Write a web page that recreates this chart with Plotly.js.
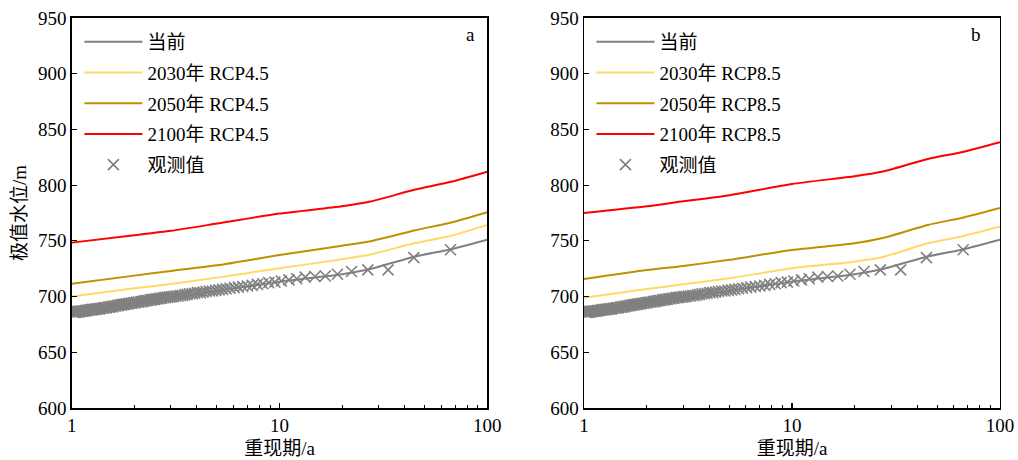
<!DOCTYPE html>
<html><head><meta charset="utf-8">
<script src="https://cdn.plot.ly/plotly-3.0.1.min.js"></script>
<style>html,body{margin:0;padding:0;background:#fff}#c{width:1018px;height:460px}</style>
</head><body><div id="c"></div>
<script>
// Return periods (a) for the fitted curves
const T = [1, 2, 3, 5, 10, 20, 27, 45, 67, 100];
// Panel a: RCP4.5
const curA_now  = [687, 695, 699, 705, 713.4, 720, 724.5, 736, 742.5, 751];
const curA_2030 = [700, 707.4, 711.3, 717, 725.4, 733.5, 737.5, 748, 754.5, 764.3];
const curA_2050 = [711.5, 718.8, 723, 728, 737.3, 745.7, 749.5, 759.5, 766.5, 775.7];
const curA_2100 = [748.4, 755, 759, 765.5, 774.5, 781, 785, 796, 803, 812];
// Panel b: RCP8.5
const curB_now  = [687, 695, 699, 705, 713.4, 720, 724.5, 736, 742.5, 751];
const curB_2030 = [699, 706.8, 711, 716.4, 725.4, 731.3, 735.2, 747.8, 754.4, 762.8];
const curB_2050 = [715.8, 723.9, 727.5, 733, 741.8, 747.8, 752.3, 764.3, 771, 779.4];
const curB_2100 = [775, 781, 785.5, 791, 801, 808, 812, 823.5, 830, 838.5];
// Observed annual maxima (return period, water level)
const obsT = [66.5, 44.3, 33.3, 26.6, 22.2, 19.0, 16.6, 14.8, 13.3, 12.1, 11.1, 10.2, 9.5, 8.87, 8.31, 7.82, 7.39, 7.0, 6.65, 6.33, 6.05, 5.78, 5.54, 5.32, 5.12, 4.93, 4.75, 4.59, 4.43, 4.29, 4.16, 4.03, 3.91, 3.80, 3.69, 3.59, 3.50, 3.41, 3.33, 3.25, 3.17, 3.09, 3.02, 2.96, 2.89, 2.83, 2.77, 2.71, 2.66, 2.61, 2.56, 2.51, 2.46, 2.42, 2.38, 2.33, 2.29, 2.25, 2.22, 2.18, 2.15, 2.10, 2.05, 2.01, 1.98, 1.94, 1.90, 1.87, 1.83, 1.80, 1.77, 1.74, 1.71, 1.68, 1.66, 1.63, 1.60, 1.57, 1.55, 1.52, 1.50, 1.47, 1.45, 1.43, 1.41, 1.38, 1.36, 1.34, 1.32, 1.30, 1.28, 1.26, 1.25, 1.23, 1.21, 1.19, 1.18, 1.16, 1.15, 1.13, 1.12, 1.10, 1.09, 1.08, 1.07, 1.06, 1.05, 1.04, 1.03, 1.02, 1.008];
const obsY = [742, 735, 724, 724, 722.5, 720, 718.5, 718, 717.5, 716, 715, 714, 713, 712.5, 711.5, 711, 710, 709.5, 709, 708.5, 708, 707.5, 707, 706.5, 706, 705.5, 705, 705, 704.5, 704, 703.5, 703.5, 703, 702.5, 702.5, 702, 701.5, 701, 701, 700.5, 700.5, 700, 700, 699.5, 699.5, 699, 699, 698.5, 698.5, 698, 698, 697.5, 697.5, 697, 697, 696.5, 696.5, 696, 696, 695.5, 695.5, 695, 695, 694.5, 694.5, 694, 694, 693.5, 693.5, 693, 693, 692.5, 692.5, 692, 692, 691.5, 691.5, 691, 691, 690.5, 690.5, 690, 690, 690, 689.5, 689.5, 689, 689, 689, 688.5, 688.5, 688.5, 688, 688, 688, 687.5, 687.5, 687.5, 687, 687, 687, 687, 686.5, 686.5, 686.5, 686.5, 686, 686, 686, 686, 686];

const names = ['当前', '2030年 RCP4.5', '2050年 RCP4.5', '2100年 RCP4.5', '观测值'];
const namesB = ['当前', '2030年 RCP8.5', '2050年 RCP8.5', '2100年 RCP8.5', '观测值'];
const colors = ['#808080', '#FFD966', '#BF9000', '#FF0000'];

function panel(series, nm, xa, ya, lg) {
  const tr = series.map((s, i) => ({
    x: T, y: s, type: 'scatter', mode: 'lines', name: nm[i],
    line: {color: colors[i], width: 2, shape: 'spline', smoothing: 0.6},
    xaxis: xa, yaxis: ya, legend: lg, legendgroup: lg + i
  }));
  tr.push({
    x: obsT, y: obsY, type: 'scatter', mode: 'markers', name: nm[4],
    marker: {symbol: 'x-thin-open', size: 11, color: '#808080', line: {color: '#808080', width: 1.6}},
    xaxis: xa, yaxis: ya, legend: lg, legendgroup: lg + 4
  });
  return tr;
}

const data = [].concat(
  panel([curA_now, curA_2030, curA_2050, curA_2100], names, 'x', 'y', 'legend'),
  panel([curB_now, curB_2030, curB_2050, curB_2100], namesB, 'x2', 'y2', 'legend2')
);

const F = 'Liberation Serif, "Noto Sans CJK SC", serif';
const minorVals = [2,3,4,5,6,7,8,9,20,30,40,50,60,70,80,90];
function xax(dom) {
  return {
    type: 'log', domain: dom, range: [0, 2], tickvals: [1, 10, 100], ticktext: ['1', '10', '100'],
    ticks: 'inside', ticklen: 5, tickwidth: 1.2, tickcolor: '#000',
    minor: {tickvals: minorVals, ticks: 'inside', ticklen: 3, tickcolor: '#000', tickwidth: 1},
    showline: true, linecolor: '#000', linewidth: 1.5, mirror: true, showgrid: false, zeroline: false,
    tickfont: {family: F, size: 19, color: '#000'},
    title: {text: '重现期/a', font: {family: F, size: 19, color: '#000'}, standoff: 6}
  };
}
function yax(dom, showTitle) {
  const a = {
    domain: dom, range: [600, 950], dtick: 50, tick0: 600,
    ticks: 'inside', ticklen: 5, tickwidth: 1.2, tickcolor: '#000',
    showline: true, linecolor: '#000', linewidth: 1.5, mirror: true, showgrid: false, zeroline: false,
    tickfont: {family: F, size: 19, color: '#000'}
  };
  if (showTitle) a.title = {text: '极值水位/m', font: {family: F, size: 19, color: '#000'}, standoff: 6};
  return a;
}
const ydom = [0.113, 0.961];
const leg = (x) => ({
  x: x, y: 0.95, xanchor: 'left', yanchor: 'top', bgcolor: 'rgba(0,0,0,0)',
  font: {family: F, size: 19, color: '#000'}, traceorder: 'grouped', tracegroupgap: 3,
  itemwidth: 58
});
const layout = {
  width: 1018, height: 460, margin: {l: 0, r: 0, t: 0, b: 0},
  paper_bgcolor: '#fff', plot_bgcolor: '#fff', showlegend: true,
  xaxis: Object.assign(xax([0.0705, 0.4787]), {anchor: 'y'}), yaxis: Object.assign(yax(ydom, true), {anchor: 'x'}),
  xaxis2: Object.assign(xax([0.5737, 0.9823]), {anchor: 'y2'}), yaxis2: Object.assign(yax(ydom, false), {anchor: 'x2'}),
  legend: leg(0.078), legend2: leg(0.581),
  annotations: [
    {text: 'a', x: 0.462, y: 0.952, xref: 'paper', yref: 'paper', showarrow: false, font: {family: F, size: 19, color: '#000'}},
    {text: 'b', x: 0.966, y: 0.952, xref: 'paper', yref: 'paper', showarrow: false, font: {family: F, size: 19, color: '#000'}}
  ]
};
Plotly.newPlot('c', data, layout, {displayModeBar: false, staticPlot: true});
</script></body></html>
